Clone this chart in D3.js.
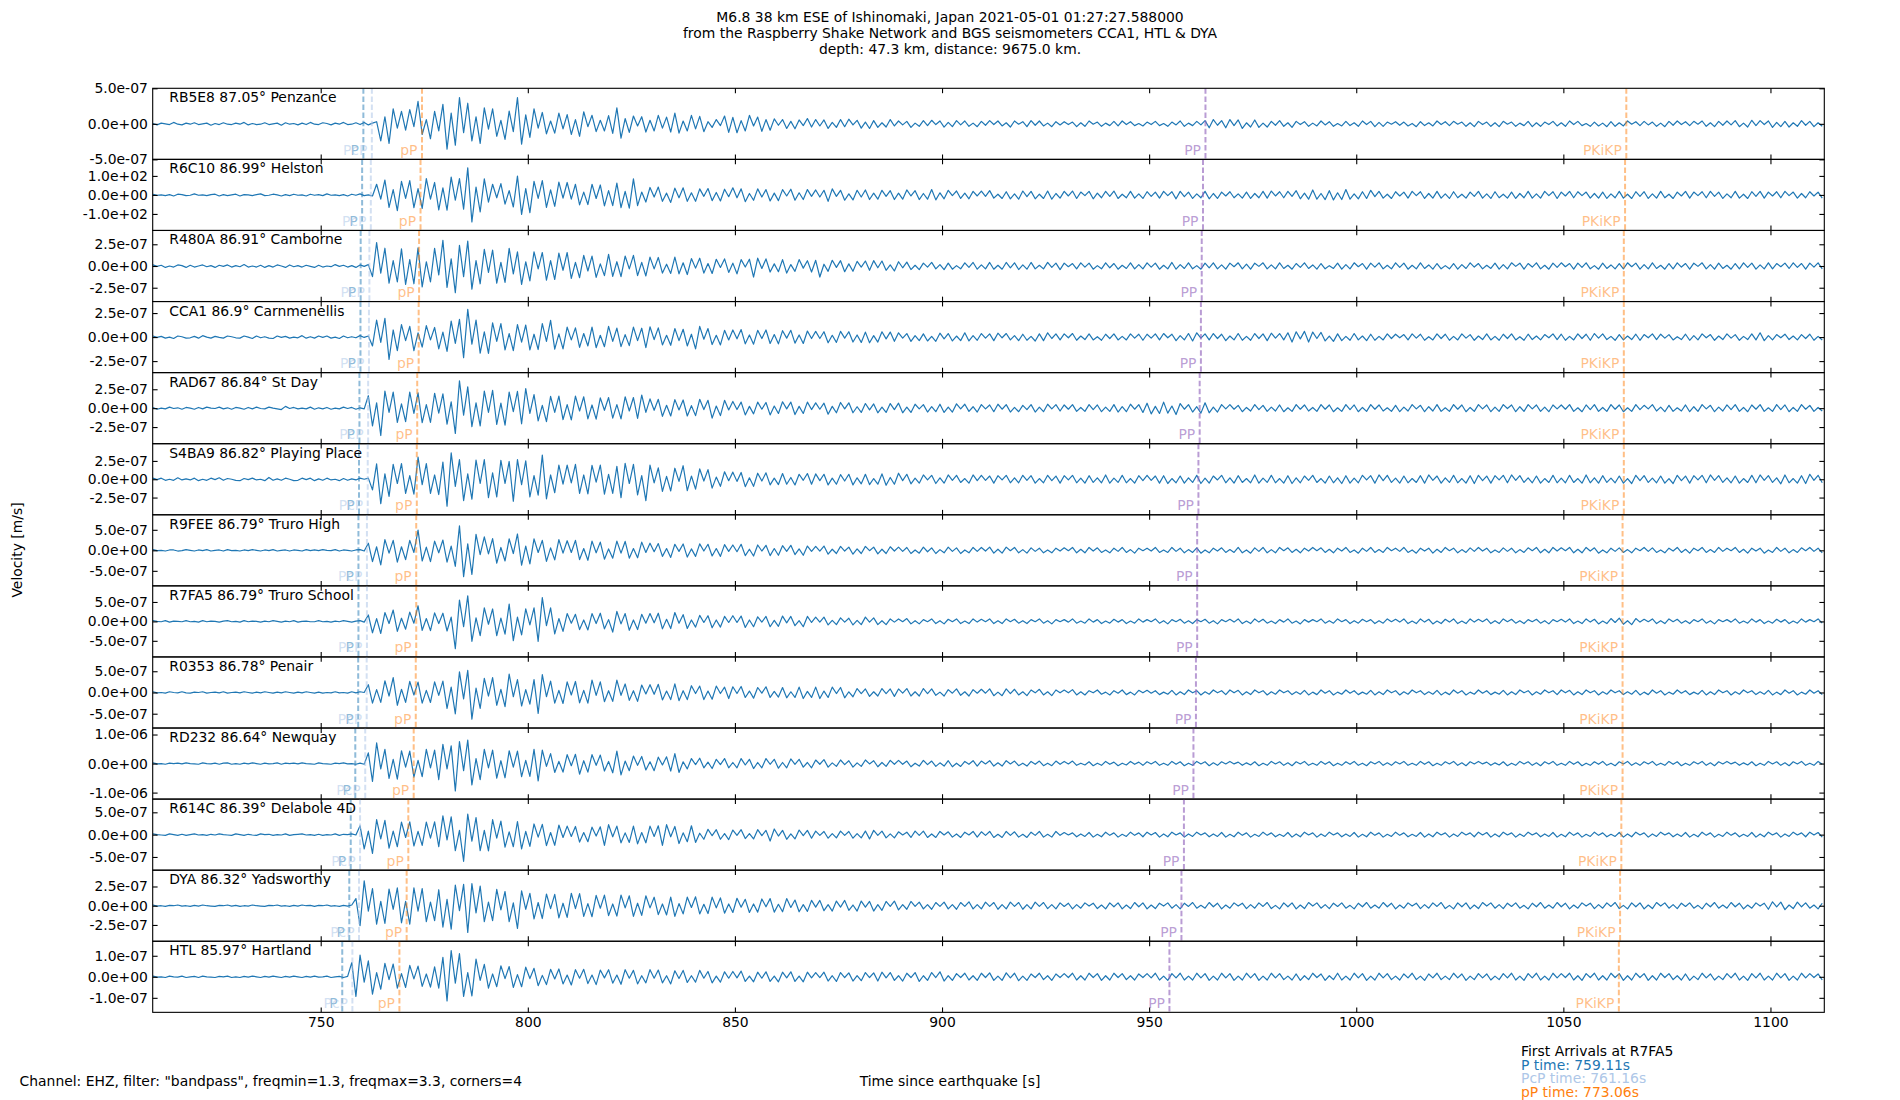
<!DOCTYPE html>
<html>
<head>
<meta charset="utf-8">
<script src="https://cdn.jsdelivr.net/npm/d3@7"></script>
<style>
  body { margin: 0; background: #fff; }
  text { font-family: "DejaVu Sans", sans-serif; }
</style>
</head>
<body>
<div id="wrapper"></div>
<script>
// station labels, top to bottom
const stations = [
  "RB5E8 87.05° Penzance", "R6C10 86.99° Helston", "R480A 86.91° Camborne",
  "CCA1 86.9° Carnmenellis", "RAD67 86.84° St Day", "S4BA9 86.82° Playing Place",
  "R9FEE 86.79° Truro High", "R7FA5 86.79° Truro School", "R0353 86.78° Penair",
  "RD232 86.64° Newquay", "R614C 86.39° Delabole 4D", "DYA 86.32° Yadsworthy",
  "HTL 85.97° Hartland"
];

// y axis half range of each panel and the tick step shown
const yLimits = [5e-7, 187, 4.09e-7, 3.7e-7, 4.7e-7, 4.85e-7, 8.66e-7, 9.15e-7, 8.37e-7, 1.224e-6, 7.96e-7, 4.62e-7, 1.69e-7];
const yTickSteps = [5e-7, 1e2, 2.5e-7, 2.5e-7, 2.5e-7, 2.5e-7, 5e-7, 5e-7, 5e-7, 1e-6, 5e-7, 2.5e-7, 1e-7];

// phase arrival times [s] per station
const pTimes     = [760.3, 760.0, 759.65, 759.6, 759.35, 759.25, 759.11, 759.11, 759.05, 758.35, 757.25, 756.9, 755.2];
const pcpTimes   = [762.35, 762.1, 761.75, 761.65, 761.45, 761.35, 761.16, 761.16, 761.1, 760.75, 759.5, 759.25, 757.65];
const ppTimesD   = [774.45, 774.1, 773.75, 773.65, 773.3, 773.2, 773.06, 773.06, 772.95, 772.45, 771.15, 770.75, 769.0]; // pP
const bigPPTimes = [963.6, 963.0, 962.7, 962.5, 962.2, 961.9, 961.6, 961.6, 961.3, 960.7, 958.4, 957.8, 954.9]; // PP
const pkikpTimes = [1065.2, 1064.9, 1064.6, 1064.6, 1064.6, 1064.6, 1064.3, 1064.3, 1064.3, 1064.3, 1064.0, 1063.7, 1063.4];

const xTicks = [750, 800, 850, 900, 950, 1000, 1050, 1100];

// traces: samples every 1 s from 709.5 s, in % of the panel's y limit
const t0 = 709.5, dt = 1;
const penzance = [
1,-3,2,0,-2,4,-1,-3,2,-1,3,-2,0,2,-4,1,-2,3,-1,-2,
2,-1,4,-3,1,-2,-1,3,-2,0,2,-4,3,-1,1,-3,2,-2,4,-1,
-2,3,1,-3,2,-1,4,-2,-1,3,-2,4,-3,2,6,-48,20,-55,42,-12,
35,-18,40,-8,63,-30,12,-42,35,-20,55,-71,30,-60,74,-25,58,-48,20,-55,
45,-15,42,-35,10,-44,36,-22,74,-57,25,-38,42,-12,32,-28,8,-26,30,-14,
26,-30,12,-35,34,-8,24,-22,10,-20,23,-27,45,-40,15,-24,22,-6,20,-23,
10,-20,24,-12,19,-23,30,-26,8,-20,24,-14,21,-22,6,-10,12,-5,22,-24,
18,-25,9,-20,24,-6,19,-21,12,-18,14,-4,12,-13,7,-14,11,-5,15,-9,
12,-6,11,-13,4,-10,12,-8,13,-3,10,-12,5,-13,9,-10,3,-9,12,-6,
8,-3,7,-10,2,-7,9,-5,10,-2,8,-9,4,-8,9,-3,8,-7,2,-8,
7,-4,9,-2,8,-6,3,-9,8,-1,6,-8,9,-4,8,-6,2,-8,6,-3,
6,-2,5,-8,3,-7,8,-1,5,-7,2,-5,7,-6,8,-2,6,-5,1,-6,
5,-2,7,-5,1,-7,5,-3,8,-7,2,-5,7,-3,9,-11,12,-4,9,-11,
12,-5,11,-13,3,-9,11,-10,2,-9,7,-4,9,-7,3,-10,7,-2,6,-7,
2,-6,8,-3,6,-7,1,-6,7,-5,3,-7,8,-2,7,-8,4,-7,5,-1,
6,-4,5,-6,1,-8,6,-5,3,-6,8,-2,6,-5,7,-1,5,-7,3,-8,
7,-2,5,-7,3,-8,7,-1,5,-7,2,-5,7,-8,3,-7,5,-2,7,-6,
3,-7,8,-2,7,-5,1,-7,5,-6,2,-8,6,-7,3,-6,8,-1,6,-5,
7,-3,5,-7,2,-8,7,-4,8,-2,6,-5,7,-1,8,-7,3,-8,7,-4,
8,-3,9,-8,2,-9,10,-5,9,-2,8,-10,4,-8,7,-9,3,-7,9,-4,
7,-8,3,-7
];
const helston = [
2,-1,0,-2,1,-3,2,1,-2,-1,3,-1,0,-2,1,2,-3,1,-2,0,
2,-3,1,0,-2,1,3,-2,-1,2,0,-3,1,-2,2,-1,0,-3,2,-1,
1,-2,3,-1,0,-2,1,-3,2,-1,3,-2,0,-3,30,-12,42,-35,15,-44,
38,-10,40,-36,18,-38,46,-12,35,-42,20,-43,50,-15,46,-40,76,-76,22,-48,
45,-20,30,-8,32,-26,12,-34,53,-55,18,-50,38,-10,40,-35,14,-32,36,-9,
35,-12,30,-28,8,-27,30,-10,28,-31,12,-30,33,-36,10,-37,45,-30,8,-20,
21,-6,22,-18,5,-21,19,-8,20,-18,6,-18,17,-4,18,-16,7,-17,16,-5,
20,-8,17,-19,4,-15,17,-6,15,-17,5,-16,15,-3,16,-15,6,-13,15,-4,
14,-6,13,-18,17,-4,13,-15,3,-14,13,-6,14,-13,5,-12,13,-4,12,-13,
5,-12,14,-3,12,-13,4,-12,15,-14,6,-11,13,-2,11,-10,5,-11,10,-3,
11,-4,12,-9,2,-10,9,-11,3,-12,11,-5,10,-11,2,-10,11,-12,4,-9,
10,-3,11,-10,8,-2,10,-11,5,-8,10,-4,11,-10,2,-8,10,-9,3,-10,
9,-4,8,-9,10,-2,9,-11,10,-5,8,-10,3,-8,10,-11,4,-10,8,-3,
9,-8,3,-9,8,-10,4,-8,10,-9,11,-3,9,-8,10,-4,12,-11,5,-12,
14,-12,4,-13,12,-14,6,-13,15,-12,3,-11,9,-10,13,-5,10,-9,2,-10,
9,-3,8,-9,10,-2,9,-10,4,-9,10,-9,3,-10,9,-8,2,-9,8,-4,
10,-9,3,-10,9,-8,2,-9,8,-10,4,-8,10,-9,3,-9,10,-2,9,-10,
8,-3,10,-8,9,-2,8,-9,4,-9,8,-10,3,-8,10,-9,2,-10,9,-4,
9,-10,3,-9,10,-8,2,-10,8,-3,10,-9,8,-2,9,-8,10,-4,8,-10,
3,-8,10,-9,2,-10,9,-4,10,-9,8,-3,9,-8,10,-2,8,-9,4,-8,
9,-3,8,-9
];
const camborne = [
3,-1,2,-4,0,-3,3,1,-4,2,-3,0,3,-2,1,-4,2,-1,3,-3,
1,-2,4,-3,0,-3,2,-4,1,-3,3,0,-4,3,-2,1,-3,2,-1,-4,
2,-3,0,-2,4,-1,2,-3,1,-4,3,-1,4,-30,66,-20,50,-48,15,-45,
48,-52,18,-50,51,-59,12,-45,50,-25,72,-60,20,-75,58,-30,70,-65,15,-50,
47,-18,45,-48,10,-46,50,-22,40,-52,12,-42,40,-8,38,-40,15,-38,36,-12,
38,-35,10,-33,30,-14,28,-32,6,-27,33,-29,12,-30,28,-8,30,-27,10,-28,
25,-8,24,-20,5,-21,25,-22,9,-24,21,-6,22,-20,7,-21,19,-4,20,-18,
8,-22,18,-3,19,-31,22,-7,20,-17,6,-16,18,-20,4,-15,18,-6,15,-17,
16,-31,5,-15,16,-4,15,-16,6,-15,13,-3,14,-12,15,-5,14,-12,3,-14,
12,-5,11,-10,2,-10,8,-3,10,-8,4,-10,8,-9,1,-8,9,-4,10,-9,
3,-8,10,-9,2,-9,10,-5,9,-10,3,-9,10,-8,2,-8,10,-4,8,-10,
8,-2,7,-8,9,-3,8,-9,1,-8,9,-5,7,-9,2,-7,9,-8,4,-8,
9,-3,8,-9,2,-8,10,-9,4,-7,9,-8,1,-9,8,-5,9,-8,3,-9,
8,-2,9,-8,5,-9,8,-1,9,-8,3,-8,9,-7,2,-9,7,-4,9,-7,
3,-9,7,-8,1,-7,8,-9,4,-8,9,-2,7,-9,8,-3,9,-8,2,-8,
9,-4,8,-9,2,-8,9,-7,3,-9,7,-8,1,-8,7,-9,4,-7,9,-3,
7,-8,2,-7,8,-9,4,-8,9,-1,8,-9,7,-3,9,-8,2,-9,8,-4,
9,-2,7,-9,8,-4,9,-8,1,-9,8,-7,3,-8,7,-8,9,-2,8,-9,
4,-8,9,-7,2,-9,7,-8,9,-3,7,-9,8,-1,9,-8,4,-9,8,-7,
2,-9,7,-8,9,-4,8,-9,3,-8,9,-8,7,-2,8,-7,9,-4,7,-9,
8,-3,9,-8
];
const carnmenellis = [
3,-1,2,-3,0,-4,3,1,-3,-2,2,-3,4,0,-3,2,-1,-3,3,1,
-2,-3,3,0,-4,3,-2,1,-3,-4,3,-1,2,-3,0,-2,4,-3,1,-3,
3,-1,3,-3,0,-4,3,-2,1,-2,4,-1,3,-25,48,-15,53,-63,20,-38,
35,-10,30,-38,12,-28,32,-8,27,-33,14,-40,45,-18,50,-58,78,-20,48,-45,
15,-46,40,-12,38,-36,10,-38,35,-14,34,-36,8,-35,38,-12,47,-34,9,-33,
28,-8,26,-29,10,-25,28,-30,5,-27,30,-12,25,-27,7,-24,28,-10,25,-30,
29,-7,26,-22,5,-23,24,-10,22,-25,8,-33,30,-6,24,-21,5,-22,19,-8,
20,-5,21,-19,6,-20,19,-4,20,-18,7,-19,18,-3,19,-17,6,-18,17,-4,
16,-4,15,-16,5,-15,16,-3,15,-14,6,-15,14,-16,4,-14,15,-5,14,-12,
12,-3,10,-12,4,-10,9,-11,2,-12,11,-5,10,-11,3,-10,12,-11,4,-9,
10,-3,9,-10,11,-2,10,-8,4,-10,8,-9,2,-11,9,-10,12,-4,9,-8,
9,-2,10,-9,3,-7,9,-8,1,-9,8,-4,9,-8,2,-8,9,-3,8,-9,
8,-3,9,-8,10,-2,8,-10,4,-8,10,-11,12,-3,9,-8,10,-4,8,-10,
3,-8,10,-9,2,-9,10,-4,9,-10,11,-3,10,-8,12,-14,15,-5,16,-14,
14,-4,13,-11,3,-12,9,-10,2,-9,10,-8,3,-10,8,-9,2,-8,9,-4,
8,-2,7,-8,9,-3,8,-9,1,-8,9,-4,8,-9,2,-8,9,-3,7,-9,
3,-7,9,-8,2,-9,8,-4,9,-8,1,-9,8,-7,3,-8,7,-2,9,-7,
8,-9,2,-8,9,-4,8,-9,10,-3,9,-7,2,-9,7,-8,3,-7,8,-9,
7,-2,9,-7,8,-3,7,-8,1,-7,8,-9,4,-8,9,-2,7,-9,3,-7,
9,-3,7,-9,2,-7,9,-8,12,-10,4,-8,7,-2,8,-7,3,-8,7,-4,
8,-9,2,-8
];
const stDay = [
2,-3,0,-2,3,-1,1,-3,2,0,-3,2,-2,3,0,-1,3,-2,1,-3,
2,0,-3,2,-2,3,-1,-2,3,0,-2,-4,5,-1,2,-2,0,-2,3,-3,
1,-2,2,-3,0,-2,3,-1,2,-3,1,-2,35,-50,15,-77,48,-12,45,-40,
12,-38,45,-15,43,-41,10,-40,42,-14,40,-45,18,-71,77,-20,60,-52,15,-50,
48,-12,50,-46,14,-48,45,-10,47,-44,55,-15,38,-36,8,-38,33,-12,34,-32,
10,-33,34,-8,32,-30,9,-31,29,-6,30,-28,10,-30,32,-8,30,-29,37,-12,
26,-6,25,-23,8,-22,24,-5,23,-22,7,-21,25,-4,22,-28,6,-21,22,-5,
19,-4,17,-19,5,-16,17,-3,16,-19,6,-15,18,-2,17,-18,5,-15,17,-4,
15,-3,14,-17,5,-13,16,-2,15,-13,4,-12,13,-5,12,-13,3,-12,13,-4,
14,-13,3,-12,11,-2,10,-11,4,-10,11,-12,3,-11,12,-2,11,-9,4,-11,
10,-2,9,-10,11,-3,10,-11,2,-10,8,-4,10,-11,3,-10,11,-2,10,-8,
9,-3,10,-9,2,-9,10,-4,9,-10,3,-9,10,-11,4,-10,11,-3,10,-12,
14,-16,5,-15,17,-14,6,-18,13,-3,10,-11,4,-14,15,-13,3,-11,10,-2,
10,-3,8,-10,2,-8,10,-4,8,-9,3,-8,9,-10,1,-9,10,-3,9,-8,
2,-9,10,-3,9,-10,1,-9,10,-4,9,-10,2,-9,10,-3,9,-8,1,-9,
8,-10,3,-8,10,-2,8,-10,4,-8,10,-9,1,-9,10,-3,9,-10,2,-9,
10,-2,9,-10,3,-9,10,-1,9,-10,4,-9,10,-2,9,-9,3,-10,9,-2,
9,-3,10,-9,1,-10,9,-4,10,-9,2,-9,10,-3,9,-10,1,-9,10,-4,
8,-2,10,-8,3,-10,8,-9,1,-8,9,-10,4,-9,10,-2,8,-10,3,-8,
9,-4,10,-9,2,-10,9,-3,10,-9,1,-9,10,-4,9,-10,2,-9,10,-3,
8,-9,2,-8
];
const playingPlace = [
3,-1,3,-3,0,-3,4,-2,1,-2,3,-4,0,-3,3,-1,4,-3,2,0,
-3,-4,2,-1,3,-2,0,-4,5,-3,1,-3,3,0,-4,-3,3,-1,3,-4,
1,-3,3,-2,0,-4,2,-3,1,-2,3,0,3,-30,43,-69,15,-48,42,-12,
44,-40,10,-42,62,-15,44,-40,12,-43,48,-76,74,-20,55,-60,15,-56,54,-12,
55,-52,18,-50,53,-12,50,-62,55,-15,52,-50,10,-45,68,-55,12,-38,40,-14,
40,-10,42,-40,12,-41,39,-8,40,-42,14,-40,36,-52,45,-12,42,-44,10,-60,
40,-10,32,-34,8,-33,31,-6,38,-32,9,-28,29,-5,27,-25,6,-20,21,-4,
20,-6,19,-21,4,-20,17,-5,18,-16,3,-15,16,-14,5,-16,14,-3,16,-14,
15,-4,14,-16,3,-14,13,-5,14,-16,4,-13,14,-15,2,-14,15,-17,5,-14,
17,-4,14,-13,3,-11,12,-2,11,-12,4,-11,12,-3,11,-9,2,-11,12,-4,
11,-3,9,-11,10,-2,11,-10,4,-10,11,-3,10,-11,2,-10,11,-4,9,-11,
10,-2,11,-10,3,-11,10,-9,4,-10,12,-11,3,-9,11,-10,2,-11,10,-4,
11,-3,9,-11,10,-12,2,-10,9,-11,4,-9,11,-12,3,-11,9,-2,11,-10,
4,-11,10,-9,2,-10,12,-11,3,-9,11,-10,2,-11,10,-12,4,-10,9,-3,
11,-9,2,-11,9,-10,4,-12,10,-11,3,-10,11,-2,10,-11,12,-4,11,-9,
3,-11,9,-10,2,-9,10,-11,12,-3,9,-11,4,-9,11,-10,2,-11,10,-12,
11,-4,9,-11,10,-2,11,-10,12,-3,10,-9,4,-10,9,-11,2,-9,11,-10,
3,-10,11,-9,2,-11,12,-10,4,-11,10,-9,3,-10,9,-11,2,-12,11,-4,
10,-9,3,-10,9,-11,2,-12,11,-4,9,-11,10,-2,11,-10,12,-3,10,-9,
4,-10,9,-11,2,-9,11,-10,12,-3,10,-9,4,-13,12,-10,2,-11,10,-12,
14,-3,11,-10
];
const truroHigh = [
2,-1,0,-2,1,1,-2,-1,2,0,-2,1,-1,2,-2,0,1,-2,2,-1,
0,-2,1,-1,2,0,-2,1,-1,2,-2,0,1,-2,1,0,-2,2,-1,1,
-1,2,0,-1,2,-2,1,0,-2,1,2,-2,20,-32,10,-41,30,-8,28,-33,
10,-26,28,-6,57,-30,9,-32,26,-7,29,-33,12,-45,69,-74,18,-68,45,-12,
38,-10,33,-36,8,-30,32,-9,46,-42,12,-38,32,-6,28,-31,7,-27,30,-8,
27,-6,28,-26,5,-28,26,-7,23,-25,4,-22,26,-8,25,-22,5,-21,23,-6,
20,-4,19,-17,5,-20,17,-3,18,-19,4,-17,18,-2,17,-16,5,-17,16,-3,
15,-4,17,-15,3,-16,15,-2,14,-15,5,-14,13,-3,14,-12,4,-14,12,-3,
11,-2,12,-11,3,-9,11,-2,9,-11,4,-9,11,-1,9,-10,3,-9,10,-2,
9,-3,8,-9,1,-8,9,-4,7,-9,2,-7,9,-3,7,-9,1,-7,8,-3,
8,-2,9,-8,3,-8,9,-1,8,-7,2,-8,7,-3,6,-7,1,-7,6,-2,
7,-1,8,-7,3,-7,8,-2,7,-6,1,-7,6,-3,8,-6,2,-8,6,-1,
6,-2,8,-6,1,-6,8,-3,6,-7,2,-6,7,-8,1,-7,6,-2,7,-6,
2,-6,8,-7,1,-8,7,-3,8,-7,2,-7,8,-1,7,-6,3,-7,6,-2,
8,-1,7,-6,3,-7,6,-2,8,-6,1,-8,6,-3,8,-6,2,-6,8,-1,
6,-3,8,-6,1,-8,6,-2,6,-8,3,-6,8,-1,6,-7,2,-6,7,-3,
8,-2,6,-7,1,-6,7,-3,6,-7,2,-6,7,-1,8,-7,3,-7,8,-2,
7,-1,8,-7,3,-7,8,-2,7,-8,1,-7,6,-3,7,-6,2,-7,6,-1,
8,-3,7,-6,1,-7,6,-2,8,-6,3,-8,6,-1,8,-6,2,-6,8,-3,
6,-1,8,-6,3,-8,6,-2,6,-8,1,-6,8,-3,6,-7,2,-6,7,-1,
8,-3,6,-7
];
const truroSchool = [
2,0,-1,2,-2,1,0,-1,2,-1,0,-2,2,-1,1,0,-2,1,2,-1,
0,-2,2,-1,1,0,-2,1,-1,2,0,-2,1,-1,2,-2,0,1,-1,-1,
2,-1,0,-2,1,-1,2,0,-2,1,2,-2,18,-32,8,-34,25,-6,32,-28,
9,-22,26,-5,44,-25,8,-26,24,-6,23,-27,12,-77,60,-15,72,-56,10,-40,
38,-8,35,-40,9,-36,49,-54,12,-38,35,-10,38,-56,67,-12,38,-35,8,-28,
22,-5,20,-23,4,-24,22,-6,23,-21,5,-30,28,-7,22,-25,4,-23,20,-5,
22,-4,23,-21,6,-20,25,-5,19,-20,4,-16,17,-3,16,-18,4,-16,14,-3,
16,-3,15,-17,4,-15,13,-2,14,-15,3,-14,15,-4,14,-12,2,-15,14,-3,
12,-2,12,-10,3,-9,10,-2,9,-10,3,-9,12,-2,10,-9,2,-9,7,-2,
7,-1,8,-7,2,-7,5,-1,7,-6,2,-7,6,-1,7,-6,1,-6,7,-2,
6,-1,7,-6,2,-6,7,-1,6,-5,2,-6,5,-1,7,-5,2,-7,5,-1,
5,-2,7,-5,1,-5,7,-2,5,-6,1,-5,6,-2,5,-6,1,-5,7,-2,
5,-1,7,-5,2,-7,5,-1,6,-5,2,-6,5,-1,6,-5,2,-7,5,-1,
6,-2,7,-6,1,-6,7,-2,6,-5,1,-6,5,-2,7,-5,1,-7,5,-2,
5,-1,7,-5,2,-5,7,-1,5,-6,2,-5,6,-1,5,-6,2,-5,7,-1,
6,-2,7,-6,1,-6,7,-2,6,-7,1,-6,6,-2,7,-6,1,-6,7,-2,
6,-1,7,-6,2,-6,7,-1,6,-5,2,-6,5,-1,6,-5,2,-7,5,-1,
6,-2,7,-6,1,-6,7,-2,6,-7,1,-6,8,-3,9,-8,2,-9,8,-2,
6,-1,7,-6,2,-6,7,-1,6,-5,2,-6,5,-1,7,-5,2,-7,5,-1,
5,-2,7,-5,1,-5,7,-2,5,-6,1,-5,6,-2,5,-6,1,-5,7,-2,
5,-1,7,-5
];
const penair = [
2,-1,0,-2,2,0,-1,2,-1,-2,1,0,2,-2,0,1,-1,2,-2,0,
1,-1,2,0,-2,1,-1,2,0,-2,1,-1,2,0,-2,1,-1,2,0,-2,
1,-2,0,-1,2,-1,0,-2,2,-1,2,0,22,-30,8,-28,33,-10,42,-36,
9,-28,31,-7,29,-30,6,-28,30,-8,32,-45,15,-60,58,-18,62,-75,12,-45,
40,-10,42,-36,9,-40,52,-12,36,-38,8,-33,36,-59,50,-12,32,-30,6,-31,
30,-7,31,-29,6,-30,35,-8,30,-26,5,-25,35,-8,24,-22,5,-25,21,-4,
22,-5,23,-21,4,-20,24,-23,5,-20,19,-3,18,-20,4,-19,18,-3,15,-17,
16,-3,17,-14,4,-16,14,-2,16,-14,3,-13,14,-15,2,-14,15,-17,3,-14,
15,-17,4,-14,15,-3,14,-15,2,-12,11,-3,10,-11,2,-10,11,-3,10,-11,
10,-2,11,-10,2,-10,11,-3,10,-8,1,-10,8,-2,10,-8,2,-10,8,-2,
9,-2,10,-9,1,-9,10,-3,9,-7,2,-9,7,-1,9,-7,2,-9,7,-1,
7,-1,8,-7,2,-7,5,-1,7,-5,1,-7,5,-2,7,-6,1,-7,6,-1,
6,-2,5,-6,1,-5,6,-7,2,-6,7,-1,5,-7,2,-5,7,-1,5,-6,
7,-1,6,-7,2,-6,7,-1,5,-7,2,-5,7,-1,5,-6,2,-5,6,-7,
1,-6,7,-2,5,-7,1,-5,7,-2,5,-6,1,-5,6,-7,2,-6,7,-1,
5,-7,2,-5,7,-1,5,-6,2,-5,6,-7,1,-6,7,-2,5,-7,1,-5,
7,-2,5,-6,1,-5,6,-7,2,-6,7,-1,5,-7,2,-5,7,-1,5,-6,
7,-1,6,-7,2,-6,7,-1,5,-7,2,-5,7,-1,5,-6,2,-5,6,-7,
1,-6,7,-2,5,-7,1,-5,7,-2,5,-6,1,-5,6,-7,2,-6,7,-1,
5,-7,2,-5,7,-1,5,-6,2,-5,6,-7,1,-6,7,-2,5,-7,1,-5,
7,-2,5,-6
];
const newquay = [
2,-1,0,-2,1,0,1,-1,2,0,-1,-2,2,0,-1,1,-2,1,2,-2,
0,-2,1,-1,2,0,-2,1,-1,0,2,-2,1,0,1,-1,2,0,-1,-2,
2,0,-1,-2,1,0,2,-1,0,-2,1,-2,30,-50,58,-15,40,-42,12,-44,
36,-10,35,-38,9,-37,40,-12,38,-45,54,-15,50,-77,62,-20,66,-60,14,-45,
40,-12,38,-41,8,-40,36,-10,35,-37,9,-36,40,-49,38,-8,28,-25,6,-24,
25,-6,26,-30,8,-24,25,-5,24,-21,6,-26,35,-32,7,-20,21,-5,20,-18,
5,-20,18,-4,19,-21,28,-25,5,-15,14,-3,15,-12,4,-14,12,-3,14,-12,
3,-12,14,-4,12,-14,3,-12,14,-2,12,-13,3,-12,13,-2,12,-10,3,-12,
10,-2,11,-10,2,-8,10,-3,8,-10,2,-8,10,-1,8,-9,3,-8,9,-2,
9,-2,7,-9,1,-7,9,-3,7,-8,2,-7,8,-9,1,-8,6,-2,8,-7,
7,-1,8,-7,2,-7,8,-1,7,-6,1,-7,6,-2,7,-6,1,-6,7,-2,
6,-1,7,-5,1,-4,5,-6,1,-5,6,-2,4,-6,1,-4,6,-2,4,-5,
5,-1,6,-5,1,-5,6,-2,5,-6,1,-5,6,-1,5,-6,2,-5,5,-1,
6,-1,4,-5,2,-4,5,-6,1,-5,6,-1,5,-5,2,-6,5,-1,6,-5,
1,-5,6,-2,5,-6,1,-5,5,-2,6,-5,1,-6,5,-1,6,-5,2,-5,
5,-1,6,-5,1,-5,6,-2,5,-6,1,-5,5,-1,6,-5,2,-6,5,-1,
6,-1,4,-5,2,-4,5,-6,1,-5,6,-1,5,-5,2,-6,5,-1,6,-5,
1,-5,6,-2,5,-6,1,-5,5,-2,6,-5,1,-6,5,-1,6,-5,2,-5,
5,-1,6,-5,1,-5,6,-2,5,-6,1,-5,5,-1,6,-5,2,-6,5,-1,
6,-1,4,-5,2,-4,5,-6,1,-5,6,-1,5,-5,2,-6,5,-1,6,-5,
1,-5,6,-2
];
const delabole = [
2,0,-1,-2,2,0,-2,1,-2,0,2,-1,0,-2,1,-1,2,0,-1,-2,
2,0,-2,1,-1,-2,2,0,1,-2,0,-1,2,-2,0,1,2,-1,0,-2,
1,-2,0,-1,2,-2,1,0,2,-1,25,-40,10,-53,42,-12,40,-38,10,-34,
35,-8,36,-32,9,-30,35,-10,36,-34,53,-15,50,-45,12,-75,58,-18,48,-45,
12,-46,42,-10,38,-35,8,-34,37,-40,9,-33,30,-7,29,-31,6,-30,27,-8,
24,-5,23,-21,6,-20,21,-4,22,-30,28,-6,24,-23,5,-22,24,-26,6,-23,
24,-5,25,-30,28,-6,23,-25,5,-20,25,-22,4,-13,15,-3,14,-13,3,-14,
13,-2,14,-11,3,-12,14,-3,12,-18,16,-4,12,-13,2,-12,13,-3,12,-10,
10,-2,9,-10,3,-9,10,-2,9,-10,3,-9,10,-12,12,-2,10,-9,2,-9,
8,-1,7,-8,10,-2,10,-8,2,-8,9,-1,8,-7,2,-8,7,-1,9,-7,
8,-2,9,-8,1,-8,9,-2,8,-7,1,-8,7,-2,9,-7,1,-7,9,-2,
6,-1,5,-6,2,-5,6,-7,1,-6,7,-2,5,-7,1,-5,7,-2,5,-6,
7,-1,6,-7,2,-6,7,-1,5,-7,2,-5,7,-1,5,-6,2,-5,6,-7,
1,-6,7,-2,5,-7,1,-5,7,-2,5,-6,1,-5,6,-7,2,-6,7,-1,
5,-7,2,-5,7,-1,5,-6,2,-5,6,-7,1,-6,7,-2,5,-7,1,-5,
7,-2,5,-6,1,-5,6,-7,2,-6,7,-1,5,-7,2,-5,7,-1,5,-6,
7,-1,6,-7,2,-6,7,-1,5,-7,2,-5,7,-1,5,-6,2,-5,6,-7,
1,-6,7,-2,5,-7,1,-5,7,-2,5,-6,1,-5,6,-7,2,-6,7,-1,
5,-7,2,-5,7,-1,5,-6,2,-5,6,-7,1,-6,7,-2,5,-7,1,-5,
7,-2,5,-6,1,-5,6,-7,2,-6,7,-1,5,-7,2,-5,7,-1,5,-6,
7,-1,6,-7
];
const yadsworthy = [
2,-1,0,-2,1,0,2,-1,0,-2,1,-1,2,0,-1,-2,1,0,2,-1,
1,-2,0,-1,2,0,-1,-2,1,0,2,-1,0,-2,1,-1,2,0,1,-2,
1,0,2,-1,0,-2,1,-1,2,20,-56,70,-15,48,-52,12,-50,47,-10,50,
-48,12,-52,50,-15,48,-45,10,-42,45,-60,18,-66,58,-14,60,-75,62,-20,55,
-45,10,-42,46,-12,40,-45,8,-64,42,-10,35,-37,9,-36,33,-8,32,-34,7,
-33,35,-8,34,-30,6,-31,29,-7,30,-28,5,-29,30,-6,28,-30,7,-27,28,
-6,24,-25,5,-26,24,-30,6,-23,24,-5,25,-23,4,-22,24,-6,22,-21,5,
-19,21,-4,18,-19,5,-18,19,-3,20,-18,4,-17,20,-5,16,-17,3,-16,15,
-4,15,-14,3,-15,13,-4,15,-13,2,-15,13,-4,12,-15,3,-13,12,-2,13,
-12,3,-10,12,-2,10,-9,3,-10,9,-2,10,-9,3,-10,9,-2,11,-9,3,
-9,10,-2,9,-10,3,-9,10,-2,9,-10,3,-9,10,-2,9,-8,3,-9,8,
-2,7,-9,3,-7,8,-1,7,-8,2,-9,8,-3,8,-9,2,-8,9,-3,8,
-9,2,-8,7,-1,8,-7,3,-9,7,-2,9,-7,1,-7,9,-3,7,-9,2,
-7,8,-1,7,-8,3,-7,8,-2,9,-8,1,-9,8,-3,8,-9,2,-8,9,
-1,8,-7,3,-8,7,-2,8,-7,1,-9,7,-3,9,-7,2,-7,9,-3,7,
-9,2,-7,8,-1,7,-8,3,-7,8,-2,9,-8,1,-9,8,-3,8,-9,2,
-8,9,-1,8,-7,3,-8,7,-2,8,-7,1,-9,7,-3,9,-7,2,-7,9,
-3,7,-9,2,-7,8,-1,7,-8,3,-7,8,-2,9,-8,1,-9,8,-3,8,
-9,2,-8,9,-1,8,-7,3,-8,7,-2,8,-7,1,-9,7,-3,9,-7,2,
-7,9,-3,7,-9,2,-7,8,-1,7,-10,11,-3,10,-11,2,-8,10,-3,8,
-7,2,-9,7
];
const hartland = [
2,-1,0,-2,2,0,-1,2,-2,0,1,-2,2,0,-1,-2,1,0,2,-2,
0,-2,1,-1,2,0,-2,1,-1,2,0,-2,1,-1,2,0,-2,1,-1,2,
-1,0,2,-2,0,1,-2,1,40,-55,61,-15,45,-49,12,-35,38,-8,36,-32,
9,-30,32,-6,30,-27,8,-29,28,-32,55,-68,74,-18,65,-55,12,-54,50,-10,
35,-32,8,-28,31,-5,29,-30,6,-28,27,-5,24,-25,4,-22,21,-6,22,-20,
5,-23,20,-4,21,-19,5,-22,19,-3,20,-18,5,-21,20,-4,18,-20,3,-17,
20,-4,19,-17,3,-20,17,-5,18,-16,3,-15,18,-4,15,-17,2,-15,14,-4,
15,-3,16,-13,2,-14,13,-4,14,-13,2,-14,13,-3,14,-13,2,-14,13,-3,
12,-2,13,-12,3,-13,12,-2,11,-12,3,-11,12,-2,11,-12,13,-3,12,-10,
3,-12,10,-2,12,-13,3,-10,12,-2,14,-12,3,-10,9,-2,10,-9,3,-10,
10,-2,11,-10,2,-10,11,-3,10,-11,2,-10,8,-2,10,-8,3,-10,8,-2,
9,-2,10,-9,3,-9,10,-2,9,-10,3,-9,10,-2,9,-8,3,-9,8,-2,
9,-3,10,-9,2,-10,9,-3,10,-9,2,-9,10,-3,9,-10,2,-9,10,-3,
9,-10,2,-9,10,-3,9,-10,2,-9,10,-3,9,-8,2,-9,8,-10,3,-8,
10,-2,8,-10,3,-8,10,-9,2,-9,10,-3,9,-10,2,-9,10,-3,9,-8,
2,-9,8,-3,10,-8,2,-10,8,-3,10,-8,2,-8,10,-3,8,-10,2,-8,
9,-3,8,-9,2,-8,9,-3,10,-9,2,-10,9,-3,10,-9,2,-9,10,-3,
9,-2,10,-9,3,-10,9,-2,10,-9,3,-9,10,-2,9,-10,3,-9,10,-2,
9,-10,3,-9,10,-2,9,-8,3,-9,8,-10,2,-8,10,-3,8,-9,2,-8,
9,-3,10,-9,2,-10,9,-3,10,-9,2,-9,10,-3,9,-10,2,-9,10,-3,
9,-2,8,-9
];
const traces = [penzance, helston, camborne, carnmenellis, stDay, playingPlace,
  truroHigh, truroSchool, penair, newquay, delabole, yadsworthy, hartland];

const arrivalLines = ["First Arrivals at R7FA5", "P time: 759.11s", "PcP time: 761.16s", "pP time: 773.06s"];

function buildPlot() {
    var dimension = {
        width: 1900,
        height: 1100,
        margin: { top: 88.3, left: 152.7, right: 75.7 }
    };
    const panelH = 71.08;
    const plotRight = dimension.width - dimension.margin.right;
    const fontSize = 13.9;
    const tickLen = 4.9;

    const svg = d3.select("#wrapper").append("svg")
        .attr("width", dimension.width)
        .attr("height", dimension.height);

    const xScaler = d3.scaleLinear()
        .domain([709.44, 1113.0])
        .range([dimension.margin.left, plotRight]);

    const fmt = (v) => {
        if (v === 0) return "0.0e+00";
        return v.toExponential(1).replace(/e([+-])(\d)$/, "e$10$2");
    };

    // phase lines: [times, colour, opacity, label]
    const phases = [
        [pTimes, "#1f77b4", 0.5, "P"],
        [pcpTimes, "#aec7e8", 0.55, "PcP"],
        [ppTimesD, "#ff7f0e", 0.5, "pP"],
        [bigPPTimes, "#9467bd", 0.65, "PP"],
        [pkikpTimes, "#ff7f0e", 0.5, "PKiKP"]
    ];

    traces.forEach((trace, i) => {
        const top = dimension.margin.top + i * panelH;
        const bottom = top + panelH;
        const lim = yLimits[i];
        const step = yTickSteps[i];

        const yScaler = d3.scaleLinear().domain([-lim, lim]).range([bottom, top]);

        svg.append("clipPath").attr("id", "clip" + i)
            .append("rect")
            .attr("x", dimension.margin.left).attr("y", top)
            .attr("width", plotRight - dimension.margin.left).attr("height", panelH);

        const panel = svg.append("g").attr("clip-path", `url(#clip${i})`);

        const lineGenerator = d3.line()
            .x((d, k) => xScaler(t0 + k * dt))
            .y(d => yScaler(d / 100 * lim));

        panel.append("path")
            .attr("d", lineGenerator(trace))
            .attr("fill", "none")
            .attr("stroke", "#1f77b4")
            .attr("stroke-width", 1.2)
            .attr("stroke-linejoin", "round");

        // dashed phase markers with labels
        phases.forEach(([times, col, op, name]) => {
            const px = xScaler(times[i]);
            panel.append("line")
                .attr("x1", px).attr("x2", px)
                .attr("y1", top).attr("y2", bottom)
                .attr("stroke", col).attr("stroke-opacity", op)
                .attr("stroke-width", 2)
                .attr("stroke-dasharray", "5.5,2.6");
            svg.append("text")
                .attr("x", px - 4.5).attr("y", bottom - 4.5)
                .attr("text-anchor", "end")
                .attr("font-size", fontSize)
                .attr("fill", col).attr("fill-opacity", op)
                .text(name);
        });

        svg.append("text")
            .attr("x", dimension.margin.left + 16.6)
            .attr("y", top + 14)
            .attr("font-size", fontSize)
            .text(stations[i]);

        const yVals = [-step, 0, step];

        const yLeft = svg.append("g")
            .attr("transform", `translate(${dimension.margin.left},0)`)
            .call(d3.axisLeft(yScaler).tickValues(yVals).tickSizeInner(-tickLen).tickSizeOuter(0)
                .tickPadding(tickLen).tickFormat(fmt));
        yLeft.select(".domain").remove();
        yLeft.selectAll("text").attr("font-size", fontSize).attr("font-family", "DejaVu Sans").attr("fill", "#000");

        const yRight = svg.append("g")
            .attr("transform", `translate(${plotRight},0)`)
            .call(d3.axisRight(yScaler).tickValues(yVals).tickSizeInner(-tickLen).tickSizeOuter(0).tickFormat(""));
        yRight.select(".domain").remove();

        const xTop = svg.append("g")
            .attr("transform", `translate(0,${top})`)
            .call(d3.axisTop(xScaler).tickValues(xTicks).tickSizeInner(-tickLen).tickSizeOuter(0).tickFormat(""));
        xTop.select(".domain").remove();

        const last = i === traces.length - 1;
        const xBottom = svg.append("g")
            .attr("transform", `translate(0,${bottom})`)
            .call(d3.axisBottom(xScaler).tickValues(xTicks).tickSizeInner(-tickLen).tickSizeOuter(0)
                .tickPadding(tickLen).tickFormat(last ? d3.format("d") : ""));
        xBottom.select(".domain").remove();
        xBottom.selectAll("text").attr("font-size", fontSize).attr("font-family", "DejaVu Sans").attr("fill", "#000");

        svg.selectAll(".tick line").attr("stroke", "#000").attr("stroke-width", 1.1);

        svg.append("rect")
            .attr("x", dimension.margin.left).attr("y", top)
            .attr("width", plotRight - dimension.margin.left).attr("height", panelH)
            .attr("fill", "none").attr("stroke", "#000").attr("stroke-width", 1.1);
    });

    // titles and labels
    const titleLines = [
        "M6.8 38 km ESE of Ishinomaki, Japan 2021-05-01 01:27:27.588000",
        "from the Raspberry Shake Network and BGS seismometers CCA1, HTL & DYA",
        "depth: 47.3 km, distance: 9675.0 km."
    ];
    titleLines.forEach((s, j) => {
        svg.append("text").attr("x", 950).attr("y", 22 + j * 16.2)
            .attr("text-anchor", "middle").attr("font-size", fontSize).text(s);
    });

    svg.append("text")
        .attr("transform", "translate(22,550) rotate(-90)")
        .attr("text-anchor", "middle").attr("font-size", fontSize)
        .text("Velocity [m/s]");

    svg.append("text").attr("x", 950).attr("y", 1086)
        .attr("text-anchor", "middle").attr("font-size", fontSize)
        .text("Time since earthquake [s]");

    svg.append("text").attr("x", 19.6).attr("y", 1086)
        .attr("font-size", fontSize)
        .text('Channel: EHZ, filter: "bandpass", freqmin=1.3, freqmax=3.3, corners=4');

    const arrivalColours = ["#000", "#1f77b4", "#aec7e8", "#ff7f0e"];
    arrivalLines.forEach((s, j) => {
        svg.append("text").attr("x", 1521).attr("y", 1056 + j * 13.6)
            .attr("font-size", fontSize).attr("fill", arrivalColours[j]).text(s);
    });
}

buildPlot();
</script>
</body>
</html>
